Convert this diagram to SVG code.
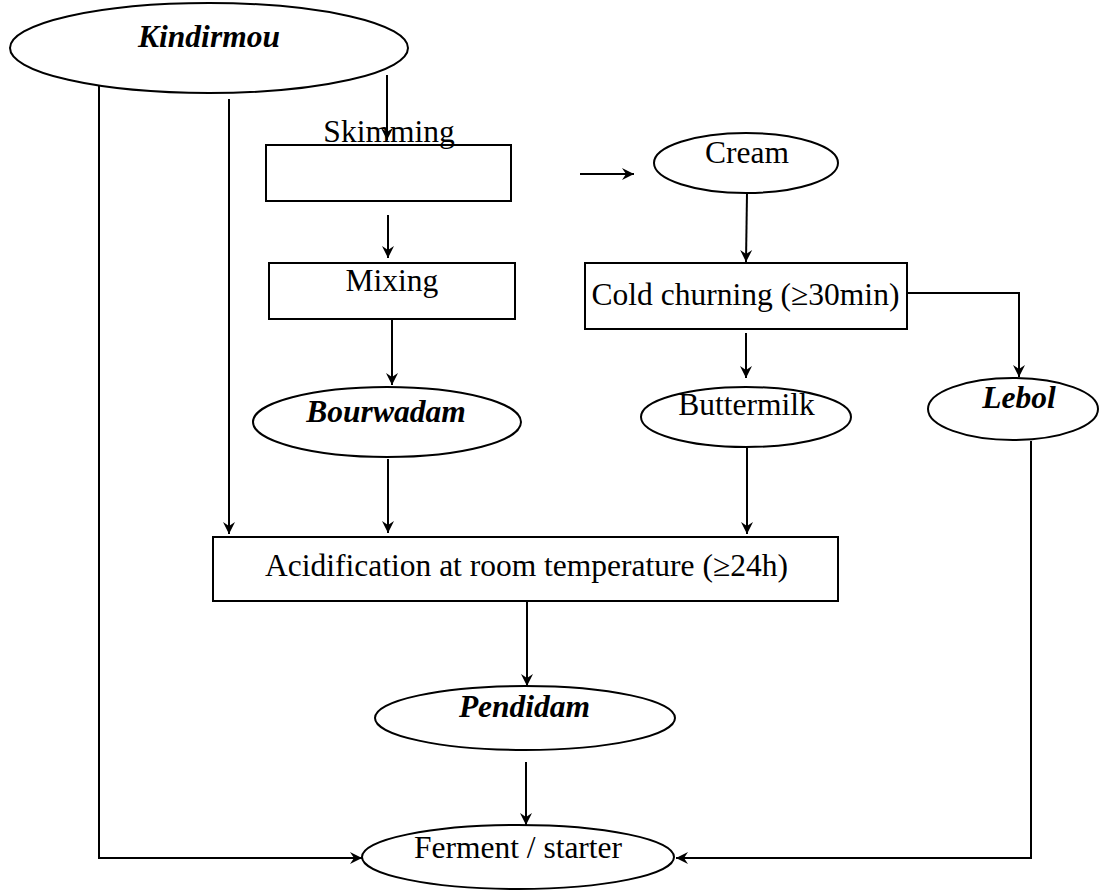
<svg xmlns="http://www.w3.org/2000/svg" width="1104" height="892" viewBox="0 0 1104 892">
<style>
.shape{fill:#fff;stroke:#000;stroke-width:2}
.t{font-family:"Liberation Serif","Times New Roman",serif;font-size:31.5px;fill:#000;text-anchor:middle}
.bi{font-weight:bold;font-style:italic}
.c{fill:none;stroke:#000;stroke-width:2}
</style>
<defs>
<marker id="arr" markerUnits="userSpaceOnUse" markerWidth="14" markerHeight="14" viewBox="0 0 14 14" refX="13" refY="7" orient="auto">
<path d="M1,1 L13,7 L1,13 L5,7 z" fill="#000"/>
</marker>
</defs>
<rect width="1104" height="892" fill="#fff"/>
<g id="connectors">
<path class="c" d="M99,86 V858 H362" marker-end="url(#arr)"/>
<path class="c" d="M229,99 V534" marker-end="url(#arr)"/>
<path class="c" d="M387,75 V140" marker-end="url(#arr)"/>
<path class="c" d="M580,174 H634" marker-end="url(#arr)"/>
<path class="c" d="M388,215 V258" marker-end="url(#arr)"/>
<path class="c" d="M392,319 V385" marker-end="url(#arr)"/>
<path class="c" d="M747,193 L746,262" marker-end="url(#arr)"/>
<path class="c" d="M746,333 V378" marker-end="url(#arr)"/>
<path class="c" d="M907,293 H1019 V377" marker-end="url(#arr)"/>
<path class="c" d="M388,459 V533" marker-end="url(#arr)"/>
<path class="c" d="M747,448 V534" marker-end="url(#arr)"/>
<path class="c" d="M527,601 V686" marker-end="url(#arr)"/>
<path class="c" d="M526,762 V825" marker-end="url(#arr)"/>
<path class="c" d="M1031,441 V858 H676" marker-end="url(#arr)"/>
</g>
<g id="kindirmou">
<ellipse class="shape" cx="209" cy="48" rx="199" ry="45"/>
<text class="t bi" x="209" y="47">Kindirmou</text>
</g>
<g id="skimming">
<rect class="shape" x="266" y="145" width="245" height="56"/>
<text class="t" x="389" y="142">Skimming</text>
</g>
<g id="cream">
<ellipse class="shape" cx="746" cy="163" rx="92" ry="30"/>
<text class="t" x="747" y="163">Cream</text>
</g>
<g id="mixing">
<rect class="shape" x="269" y="263" width="246" height="56"/>
<text class="t" x="392" y="291">Mixing</text>
</g>
<g id="cold-churning">
<rect class="shape" x="585" y="263" width="322" height="66"/>
<text class="t" x="745.5" y="305">Cold churning (≥30min)</text>
</g>
<g id="bourwadam">
<ellipse class="shape" cx="387" cy="422" rx="134" ry="35"/>
<text class="t bi" x="386" y="422">Bourwadam</text>
</g>
<g id="buttermilk">
<ellipse class="shape" cx="746" cy="417" rx="105" ry="30"/>
<text class="t" x="746.5" y="415">Buttermilk</text>
</g>
<g id="lebol">
<ellipse class="shape" cx="1013" cy="409" rx="85" ry="31"/>
<text class="t bi" x="1019" y="408">Lebol</text>
</g>
<g id="acidification">
<rect class="shape" x="213" y="537" width="625" height="64"/>
<text class="t" x="526.5" y="576">Acidification at room temperature (≥24h)</text>
</g>
<g id="pendidam">
<ellipse class="shape" cx="525" cy="718" rx="150" ry="32"/>
<text class="t bi" x="524.5" y="717">Pendidam</text>
</g>
<g id="ferment">
<ellipse class="shape" cx="518" cy="857" rx="156" ry="32"/>
<text class="t" x="518" y="858">Ferment / starter</text>
</g>
</svg>
